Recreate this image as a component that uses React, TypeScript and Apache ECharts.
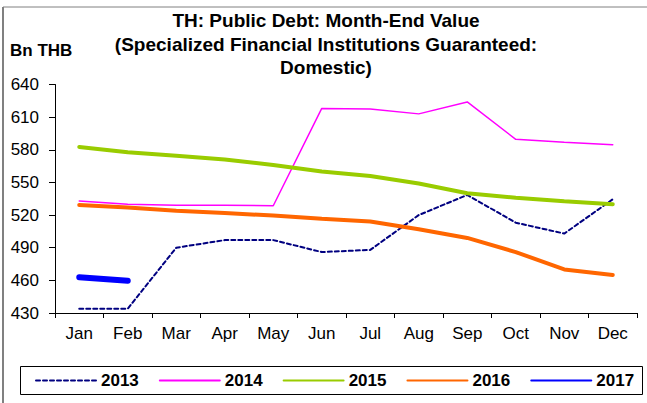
import React, { useEffect, useRef } from "react";
import * as echarts from "echarts";

const months = ["Jan", "Feb", "Mar", "Apr", "May", "Jun", "Jul", "Aug", "Sep", "Oct", "Nov", "Dec"];
const s2013 = [434, 434, 490, 497, 497, 486, 488, 520, 538.5, 513, 503, 534.5];
const s2014 = [533, 530, 529, 529, 528.6, 618, 617.5, 613, 624, 589.6, 587, 584.7];
const s2015 = [582.6, 577.7, 574.5, 571, 566, 560, 556, 549, 540, 536, 532.6, 530];
const s2016 = [529.3, 527, 524, 522, 519.5, 516.7, 514, 507, 499, 486, 470, 465];
const s2017 = [462.8, 459.7];

export default function App() {
  const ref = useRef<HTMLDivElement>(null);
  useEffect(() => {
    const chart = echarts.init(ref.current!, undefined, { renderer: "svg" });
    const font = "Liberation Sans, Arial, sans-serif";
    const mk = (name: string, data: number[], color: string, width: number, type: any = "solid") => ({
      name,
      type: "line",
      data,
      symbol: "none",
      lineStyle: { color, width, type, cap: "round" },
      itemStyle: { color },
    });
    chart.setOption({
      animation: false,
      backgroundColor: "#fff",
      title: {
        text: "TH: Public Debt: Month-End Value\n(Specialized Financial Institutions Guaranteed:\nDomestic)",
        left: 326,
        textAlign: "center",
        top: 9,
        padding: 0,
        textStyle: { fontFamily: font, fontSize: 19, fontWeight: "bold", color: "#000", lineHeight: 23.5 },
      },
      graphic: [
        { type: "line", shape: { x1: 3, y1: 7, x2: 3, y2: 403 }, style: { stroke: "#808080", lineWidth: 2 } },
        { type: "line", shape: { x1: 3, y1: 7, x2: 647, y2: 7 }, style: { stroke: "#808080", lineWidth: 1 } },
        { type: "text", left: 10, top: 42, style: { text: "Bn THB", font: `bold 17px ${font}`, fill: "#000" } },
        { type: "rect", shape: { x: 20.5, y: 366.5, width: 622, height: 28 }, style: { fill: "none", stroke: "#000", lineWidth: 1 } },
      ],
      legend: {
        left: 35,
        top: 372,
        itemWidth: 60,
        itemHeight: 14,
        itemGap: 20,
        padding: 0,
        itemStyle: { opacity: 0 },
        textStyle: { fontFamily: font, fontSize: 17, fontWeight: "bold", color: "#000" },
        data: ["2013", "2014", "2015", "2016", "2017"],
      },
      grid: { left: 55, right: 10, top: 84.5, bottom: 90, containLabel: false },
      xAxis: {
        type: "category",
        data: months,
        boundaryGap: true,
        axisLine: { lineStyle: { color: "#000", width: 1 } },
        axisTick: { show: true, length: 5, lineStyle: { color: "#000" } },
        axisLabel: { fontFamily: font, fontSize: 17, color: "#000", margin: 12 },
      },
      yAxis: {
        type: "value",
        min: 430,
        max: 640,
        interval: 30,
        splitLine: { show: false },
        axisLine: { show: true, lineStyle: { color: "#000", width: 1 } },
        axisTick: { show: true, length: 6, lineStyle: { color: "#000" } },
        axisLabel: { fontFamily: font, fontSize: 17, color: "#000", margin: 16 },
      },
      series: [
        mk("2013", s2013, "#000080", 2, [4, 3]),
        mk("2014", s2014, "#FF00FF", 1.5),
        mk("2015", s2015, "#99CC00", 4),
        mk("2016", s2016, "#FF6600", 4),
        mk("2017", s2017, "#0000FF", 6),
      ],
    });
    return () => chart.dispose();
  }, []);
  return <div ref={ref} style={{ position: "absolute", left: 0, top: 0, width: 647, height: 403 }} />;
}
